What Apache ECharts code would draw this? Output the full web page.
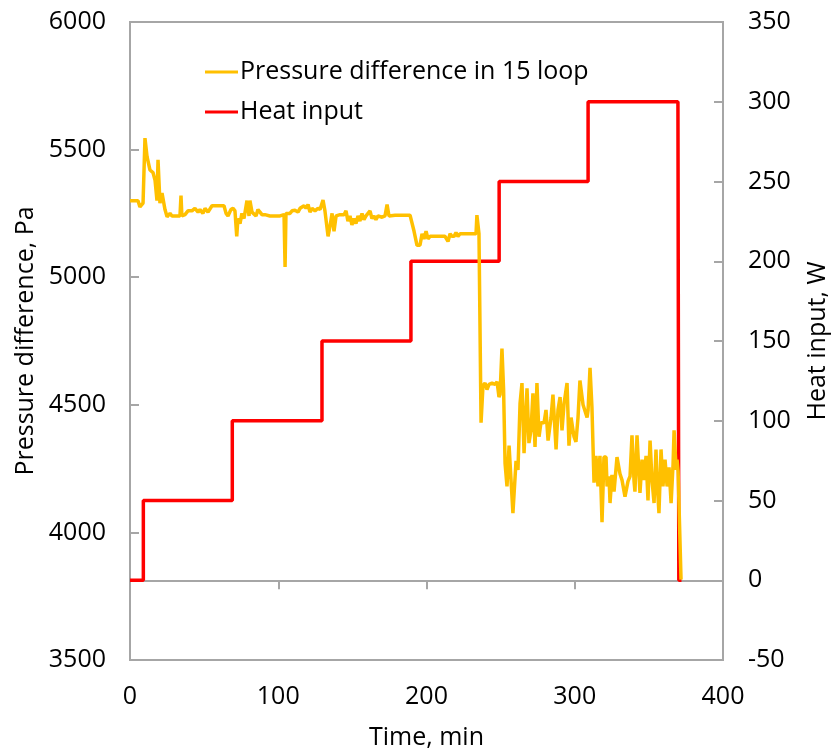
<!DOCTYPE html>
<html>
<head>
<meta charset="utf-8">
<script src="https://cdn.jsdelivr.net/npm/echarts@6/dist/echarts.min.js"></script>
<style>
  html, body { margin: 0; padding: 0; background: #fff; overflow: hidden; }
  #chart { width: 834px; height: 754px; }
</style>
</head>
<body>
<div id="chart"></div>
<script>
// Time (min) of each pressure reading
const timeMin = [
  0, 5.4, 6.7, 8.8, 10.1, 11.5, 13.5, 15.5, 16.9, 18.2, 18.9, 20.2, 21.6, 23.6, 25, 27, 28.3, 30.4, 33.7, 34.4,
  35, 37.1, 39.1, 41.8, 43.8, 45.9, 47.2, 49.2, 50.6, 52.6, 55.3, 57.3, 60.7, 63.4, 64.8, 66.1, 68.1, 69.5, 70.8, 72,
  72.8, 74.2, 75.5, 76.9, 78.9, 80.3, 80.9, 82.3, 83.6, 85, 86.3, 87.7, 89, 91, 94.4, 97.8, 101.2, 103.9, 104.6, 105.2,
  107.9, 109.3, 111.3, 113.3, 114.7, 116, 117.4, 118.7, 120.1, 121.4, 122.8, 124.8, 126.8, 128.2, 130.2, 131.5, 133.6, 134.9, 136.3, 137.6,
  139, 141.7, 144.4, 145.7, 147, 148.4, 149.7, 151.1, 152.4, 153.8, 155.1, 156.5, 157.8, 159.2, 160.5, 161.9, 163.2, 164.6, 165.9, 167.3,
  170, 172, 173.4, 174.7, 178.8, 182.1, 185.5, 188.9, 190.2, 191.6, 193.6, 195.6, 197, 198.3, 199.7, 201, 202.4, 203.7, 206.4, 209.1,
  212.5, 214.5, 215.9, 217.2, 218.6, 219.9, 221.2, 222.6, 224, 226.6, 229.3, 232, 233.4, 234, 235.4, 236.1, 236.8, 238.1, 239.5, 240.8,
  242.2, 244.2, 246.2, 247.6, 248.9, 249.6, 250.9, 252, 253, 254.3, 255.7, 257, 258.3, 260.4, 261.7, 263.1, 264.4, 265.8, 267.1, 267.8,
  269.1, 270.5, 271.8, 273.2, 274.5, 275.9, 277.2, 279.3, 280.6, 282, 284, 285.3, 287.4, 288.7, 290.1, 291.4, 292.8, 294.8, 296.1, 297.5,
  299.5, 300.8, 302.2, 303.5, 305.6, 306.9, 308.3, 309, 310.3, 311.6, 313, 314.3, 315.7, 317, 318.4, 319.7, 321.1, 321.8, 323.1, 323.8,
  325.1, 326.5, 328.5, 330.5, 331.9, 333.9, 335.9, 337.3, 338.6, 340, 340.6, 342, 344, 345.4, 346.7, 348.1, 349.4, 350.8, 352.1, 353.5,
  354.8, 355.5, 356.8, 358.2, 359.5, 360.9, 362.3, 363.6, 365, 366.3, 367, 368.4, 369, 369.7, 371.7
];

// Pressure difference in loop 15 (Pa)
const pressurePa = [
  5300, 5300, 5275, 5290, 5545, 5472, 5420, 5410, 5380, 5300, 5460, 5290, 5330, 5265, 5237, 5250, 5240, 5240, 5240, 5320,
  5240, 5245, 5260, 5260, 5270, 5255, 5265, 5250, 5270, 5255, 5280, 5280, 5280, 5280, 5250, 5240, 5265, 5270, 5260, 5160,
  5230, 5210, 5250, 5230, 5300, 5240, 5300, 5255, 5260, 5240, 5265, 5255, 5245, 5245, 5240, 5240, 5240, 5245, 5040, 5250,
  5250, 5260, 5262, 5255, 5270, 5265, 5280, 5270, 5285, 5255, 5270, 5260, 5270, 5265, 5302, 5260, 5160, 5200, 5250, 5180,
  5240, 5245, 5245, 5260, 5220, 5240, 5205, 5230, 5210, 5240, 5220, 5250, 5225, 5240, 5235, 5260, 5230, 5240, 5225, 5240,
  5235, 5240, 5285, 5240, 5243, 5243, 5243, 5243, 5240, 5180, 5125, 5125, 5170, 5150, 5180, 5150, 5160, 5155, 5160, 5160,
  5160, 5140, 5170, 5160, 5160, 5175, 5160, 5170, 5170, 5170, 5170, 5170, 5170, 5243, 5170, 5170, 4430, 4575, 4585, 4560,
  4580, 4585, 4580, 4590, 4530, 4540, 4720, 4560, 4270, 4180, 4340, 4340, 4075, 4280, 4245, 4505, 4585, 4310, 4310, 4565,
  4350, 4400, 4545, 4335, 4585, 4375, 4430, 4430, 4480, 4360, 4450, 4540, 4325, 4480, 4530, 4400, 4505, 4585, 4340, 4450,
  4375, 4355, 4450, 4595, 4500, 4505, 4450, 4480, 4645, 4490, 4195, 4300, 4180, 4300, 4040, 4295, 4295, 4180, 4220, 4115,
  4225, 4160, 4295, 4230, 4205, 4140, 4200, 4220, 4380, 4200, 4160, 4380, 4155, 4285, 4205, 4300, 4125, 4360, 4205, 4115,
  4325, 4205, 4075, 4325, 4180, 4285, 4180, 4255, 4115, 4265, 4400, 4245, 4285, 4240, 3815
];

// Heater power steps: time (min) and power (W)
const heatTime = [0, 9, 9, 69, 69, 129.5, 129.5, 189.5, 189.5, 249, 249, 309, 309, 369.6, 370.2, 372];
const heatW    = [0, 0, 50, 50, 100, 100, 150, 150, 200, 200, 250, 250, 300, 300, 0, 0];

const seriesNames = ['Pressure difference in 15 loop', 'Heat input'];
const xTicks = { min: 0, max: 400, interval: 100 };
const yLeftTicks = { min: 3500, max: 6000, interval: 500 };
const yRightTicks = { min: -50, max: 350, interval: 50 };

const pressureData = timeMin.map((t, i) => [t, pressurePa[i]]);
const heatData = heatTime.map((t, i) => [t, heatW[i]]);

const FONT = 'Open Sans';
const AXIS_GREY = '#a6a6a6';
const TEXT = '#000000';
const plain = v => String(v);

const chart = echarts.init(document.getElementById('chart'), null, { renderer: 'canvas' });
chart.setOption({
  animation: false,
  backgroundColor: '#ffffff',
  textStyle: { fontFamily: FONT },
  grid: {
    left: 130, right: 111, top: 22, bottom: 94,
    outerBoundsMode: 'none',
    containLabel: false,
    show: true, borderColor: AXIS_GREY, borderWidth: 2, backgroundColor: 'transparent'
  },
  legend: {
    orient: 'vertical',
    left: 200, top: 53,
    data: seriesNames,
    icon: 'rect',
    itemWidth: 33, itemHeight: 3,
    itemGap: 12,
    textStyle: { fontFamily: FONT, fontSize: 25, color: TEXT, padding: [0, 0, 0, -3], lineHeight: 28 }
  },
  xAxis: {
    type: 'value',
    min: xTicks.min, max: xTicks.max, interval: xTicks.interval,
    name: 'Time, min',
    nameLocation: 'middle',
    nameGap: 65,
    nameTextStyle: { fontFamily: FONT, fontSize: 25, color: TEXT },
    axisLine: { show: true, lineStyle: { color: AXIS_GREY, width: 2 } },
    axisTick: { show: true, inside: false, length: 9, lineStyle: { color: AXIS_GREY, width: 2 } },
    axisLabel: { fontFamily: FONT, fontSize: 25, color: TEXT, margin: 24, formatter: plain },
    splitLine: { show: false }
  },
  yAxis: [
    {
      type: 'value',
      position: 'left',
      min: yLeftTicks.min, max: yLeftTicks.max, interval: yLeftTicks.interval,
      name: 'Pressure difference, Pa',
      nameLocation: 'middle',
      nameGap: 75,
      nameRotate: 90,
      nameTextStyle: { fontFamily: FONT, fontSize: 25, color: TEXT },
      axisLine: { show: true, lineStyle: { color: AXIS_GREY, width: 2 } },
      axisTick: { show: true, inside: true, length: 9, lineStyle: { color: AXIS_GREY, width: 2 } },
      axisLabel: { fontFamily: FONT, fontSize: 25, color: TEXT, margin: 24, formatter: plain },
      splitLine: { show: false }
    },
    {
      type: 'value',
      position: 'right',
      min: yRightTicks.min, max: yRightTicks.max, interval: yRightTicks.interval,
      name: 'Heat input, W',
      nameLocation: 'middle',
      nameGap: 82,
      nameRotate: 90,
      nameTextStyle: { fontFamily: FONT, fontSize: 25, color: TEXT },
      axisLine: { show: true, lineStyle: { color: AXIS_GREY, width: 2 } },
      axisTick: { show: true, inside: true, length: 9, lineStyle: { color: AXIS_GREY, width: 2 } },
      axisLabel: { fontFamily: FONT, fontSize: 25, color: TEXT, margin: 25, formatter: plain },
      splitLine: { show: false }
    }
  ],
  series: [
    {
      name: seriesNames[1],
      type: 'line',
      yAxisIndex: 1,
      data: heatData,
      showSymbol: false,
      symbol: 'none',
      color: '#ff0000',
      lineStyle: { color: '#ff0000', width: 3.5 },
      z: 2
    },
    {
      name: seriesNames[0],
      type: 'line',
      yAxisIndex: 0,
      data: pressureData,
      showSymbol: false,
      symbol: 'none',
      color: '#ffc000',
      lineStyle: { color: '#ffc000', width: 3.5 },
      z: 3
    }
  ]
});
</script>
</body>
</html>
